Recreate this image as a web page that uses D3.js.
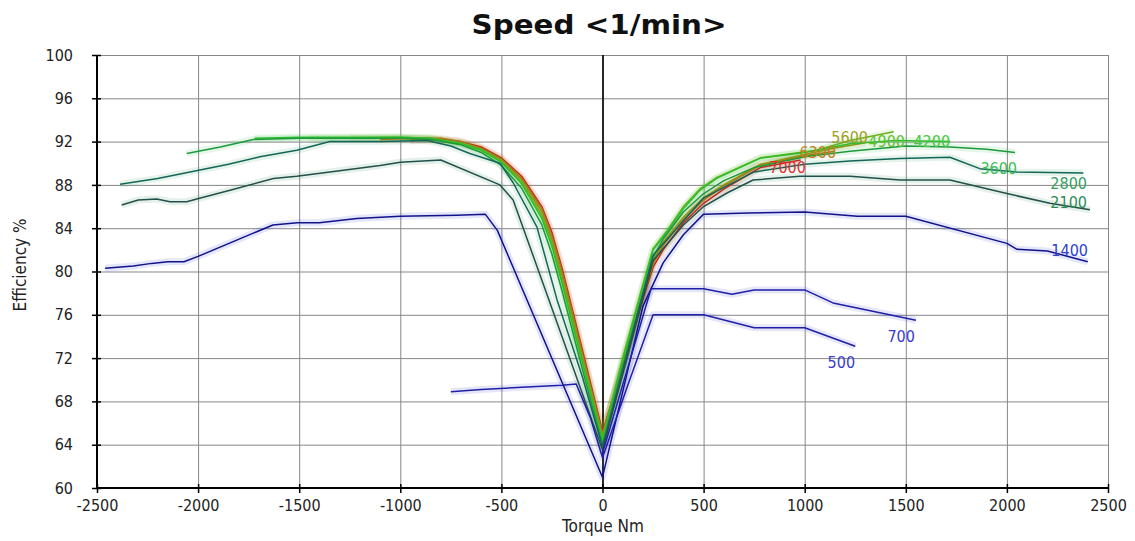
<!DOCTYPE html>
<html><head><meta charset="utf-8">
<script src="https://cdn.jsdelivr.net/npm/d3@7/dist/d3.min.js"></script>
<style>body{margin:0;background:#fff}</style>
</head><body>
<svg id="c" width="1135" height="541"></svg>
<script>
// ---------- data ----------
const chartTitle = "Speed <1/min>";
const xTitle = "Torque Nm";
const yTitle = "Efficiency %";
const xTicks = [-2500, -2000, -1500, -1000, -500, 0, 500, 1000, 1500, 2000, 2500];
const yTicks = [60, 64, 68, 72, 76, 80, 84, 88, 92, 96, 100];
const speeds = ["500", "700", "1400", "2100", "2800", "3600", "4200", "4900", "5600", "6300", "7000"];

const eff500 = [[-750,68.9],[-600,69.1],[-400,69.3],[-200,69.5],[-130,69.6],[-60,66.5],[0,62.8],[125,69.5],[250,76.0],[500,76.0],[750,74.8],[1000,74.8],[1250,73.1]];
const eff700 = [[0,63.2],[120,70.8],[240,78.4],[500,78.4],[640,77.9],[750,78.3],[1000,78.3],[1140,77.1],[1550,75.5]];
const eff1400 = [[-2460,80.3],[-2320,80.5],[-2230,80.75],[-2150,80.9],[-2070,80.9],[-2000,81.4],[-1630,84.3],[-1510,84.5],[-1400,84.5],[-1215,84.9],[-1000,85.1],[-720,85.2],[-580,85.3],[-520,83.8],[0,61.0],[200,76.8],[300,80.8],[400,83.4],[500,85.3],[720,85.4],[1000,85.5],[1260,85.1],[1500,85.1],[2000,82.6],[2050,82.05],[2200,81.9],[2400,80.9]];
const eff2100 = [[-2378,86.15],[-2296,86.6],[-2205,86.7],[-2139,86.45],[-2056,86.45],[-2007,86.7],[-1842,87.5],[-1628,88.6],[-1512,88.8],[-1348,89.2],[-1100,89.8],[-1000,90.1],[-800,90.3],[-507,88.0],[-442,86.6],[-294,78.9],[0,63.5],[250,81.0],[400,84.3],[500,86.0],[620,87.3],[745,88.45],[977,88.8],[1224,88.8],[1471,88.45],[1718,88.45],[2000,87.2],[2213,86.3],[2411,85.7]];
const eff2800 = [[-2386,88.06],[-2200,88.6],[-2040,89.2],[-1850,89.9],[-1694,90.6],[-1512,91.2],[-1348,92.0],[-1100,92.0],[-868,92.1],[-750,91.6],[-656,90.9],[-507,90.0],[-442,88.2],[-324,84.1],[-225,77.4],[-100,70.3],[0,63.8],[250,81.5],[500,86.8],[750,89.2],[1000,89.9],[1224,90.2],[1470,90.45],[1718,90.55],[1866,89.5],[2048,89.2],[2378,89.1]];
const eff3600 = [[-2056,90.9],[-1890,91.5],[-1727,92.2],[-1500,92.3],[-1000,92.3],[-850,92.2],[-700,91.7],[-600,91.0],[-500,89.8],[-400,87.7],[-300,84.3],[-250,81.6],[-200,78.2],[-100,71.0],[0,64.0],[100,71.2],[200,78.0],[250,81.3],[300,83.0],[400,85.5],[500,87.2],[600,88.4],[750,89.6],[1000,90.6],[1224,91.1],[1500,91.6],[1718,91.5],[1900,91.3],[2040,91.0]];
const eff4200 = [[-1720,92.3],[-1500,92.4],[-1000,92.4],[-850,92.3],[-700,91.8],[-600,91.2],[-500,90.1],[-400,88.1],[-300,84.9],[-250,82.3],[-200,78.9],[-100,71.6],[0,64.4],[100,71.8],[200,78.6],[250,82.0],[317,83.6],[400,85.8],[482,87.5],[565,88.6],[779,90.45],[1000,91.0],[1224,91.8],[1450,92.1],[1720,92.0]];
const eff4900 = [[-1450,92.3],[-1000,92.4],[-850,92.3],[-700,91.9],[-600,91.3],[-500,90.2],[-400,88.3],[-300,85.2],[-250,82.6],[-200,79.2],[-100,71.9],[0,64.6],[100,72.0],[200,78.8],[250,82.1],[320,83.8],[400,86.0],[480,87.6],[565,88.7],[780,90.5],[1059,91.2],[1224,92.1],[1440,92.9]];
const eff5600 = [[-1250,92.3],[-1000,92.3],[-850,92.2],[-700,91.8],[-600,91.3],[-500,90.3],[-400,88.5],[-300,85.5],[-250,83.0],[-200,79.6],[-100,72.2],[0,64.8],[100,71.6],[200,78.0],[250,81.0],[300,82.7],[400,85.0],[500,86.8],[600,88.0],[780,89.9],[1000,90.8],[1150,91.4],[1300,91.9]];
const eff6300 = [[-1100,92.2],[-900,92.3],[-800,92.3],[-700,92.0],[-600,91.4],[-500,90.4],[-400,88.6],[-300,85.8],[-250,83.3],[-200,80.0],[-100,72.5],[0,65.0],[100,71.4],[200,77.7],[250,80.7],[300,82.4],[400,84.8],[500,86.6],[600,87.9],[780,89.8],[1000,90.7],[1150,91.1]];
const eff7000 = [[-950,92.1],[-800,92.2],[-700,92.0],[-600,91.5],[-500,90.5],[-400,88.8],[-300,86.0],[-250,83.6],[-200,80.3],[-100,72.8],[0,65.2],[100,71.2],[200,77.4],[250,80.4],[300,82.0],[400,84.5],[500,86.3],[600,87.6],[780,89.6],[980,90.3]];
const curveData = [eff500, eff700, eff1400, eff2100, eff2800, eff3600, eff4200, eff4900, eff5600, eff6300, eff7000];
// label anchor (torque, efficiency) for each speed label
const labelAnchors = [[1249,71.1],[1545,73.5],[2401,81.4],[2396,85.87],[2396,87.62],[2050,89.0],[1719,91.5],[1496,91.5],[1313,91.87],[1155,90.48],[1006,89.1]];

// ---------- styles ----------
const lineColors = ["#1f1fa8","#1f1fa8","#12128a","#23504a","#14665a","#1c9a3c","#2cbf2c","#6ab01e","#8e9414","#b07418","#c02a22"];
const labelColors = ["#3a3ad0","#3a3ad0","#2e3ed0","#2f8a55","#33a060","#3cbc55","#45c840","#62c030","#9aa020","#c08020","#e03030"];
const FONT = "'DejaVu Sans Condensed','DejaVu Sans',sans-serif";

const svg = d3.select("#c");
const x = d3.scaleLinear().domain([-2500, 2500]).range([97, 1108]);
const y = d3.scaleLinear().domain([60, 100]).range([488, 55]);

// grid
const g = svg.append("g");
g.selectAll(".vg").data(xTicks).join("line")
  .attr("x1", d => x(d) + 0.5).attr("x2", d => x(d) + 0.5)
  .attr("y1", y(100)).attr("y2", y(60))
  .attr("stroke", "#878787").attr("stroke-width", 1);
g.selectAll(".hg").data(yTicks).join("line")
  .attr("x1", x(-2500)).attr("x2", x(2500))
  .attr("y1", d => y(d) + 0.5).attr("y2", d => y(d) + 0.5)
  .attr("stroke", "#878787").attr("stroke-width", 1);

// zero line
svg.append("line").attr("x1", x(0)+0.5).attr("x2", x(0)+0.5).attr("y1", y(100)).attr("y2", y(60))
  .attr("stroke", "#000").attr("stroke-width", 1.6);

// curves (highest speed drawn first, so lower speeds sit on top)
const line = d3.line().x(d => x(d[0])).y(d => y(d[1]));
const cg = svg.append("g");
const order = d3.range(curveData.length).reverse();
order.forEach(i => {
  cg.append("path").attr("d", line(curveData[i])).attr("fill", "none")
    .attr("stroke", labelColors[i]).attr("stroke-opacity", 0.13).attr("stroke-width", 7)
    .attr("stroke-linejoin", "round");
});
order.forEach(i => {
  cg.append("path").attr("d", line(curveData[i])).attr("fill", "none")
    .attr("stroke", lineColors[i]).attr("stroke-width", 1.5)
    .attr("stroke-linejoin", "round");
});

// curve labels
svg.append("g").selectAll("text").data(speeds).join("text")
  .attr("x", (d, i) => x(labelAnchors[i][0]))
  .attr("y", (d, i) => y(labelAnchors[i][1]))
  .attr("text-anchor", "end")
  .attr("font-family", FONT).attr("font-size", 16)
  .attr("fill", (d, i) => labelColors[i])
  .text(d => d);

// axes
const xAxis = svg.append("g").attr("transform", `translate(0,${y(60)})`)
  .call(d3.axisBottom(x).tickValues(xTicks).tickFormat(d3.format("d")).tickSize(5).tickPadding(7));
const yAxis = svg.append("g").attr("transform", `translate(${x(-2500)},0)`)
  .call(d3.axisLeft(y).tickValues(yTicks).tickSize(5).tickPadding(19));
[xAxis, yAxis].forEach(a => {
  a.select(".domain").attr("stroke", "#000").attr("stroke-width", 2);
  a.selectAll(".tick line").attr("stroke", "#000").attr("stroke-width", 1.5);
  a.selectAll(".tick text").attr("font-family", FONT).attr("font-size", 16).attr("fill", "#222");
});
xAxis.select(".domain").attr("d", `M${x(-2500)},0H${x(2500)}`);
yAxis.select(".domain").attr("d", `M0,${y(100)}V${y(60)}`);
xAxis.selectAll(".tick line").attr("y1", -4);
yAxis.selectAll(".tick line").attr("x1", 4);
xAxis.selectAll(".tick text").text(d => d < 0 ? "-" + Math.abs(d) : d);

// titles
svg.append("text").attr("x", 599).attr("y", 34).attr("text-anchor", "middle")
  .attr("font-family", "'DejaVu Sans',sans-serif").attr("font-weight", "bold").attr("font-size", 27)
  .attr("textLength", 255).attr("lengthAdjust", "spacingAndGlyphs")
  .attr("fill", "#111").text(chartTitle);
svg.append("text").attr("x", 603).attr("y", 532).attr("text-anchor", "middle")
  .attr("font-family", FONT).attr("font-size", 17).attr("fill", "#222").text(xTitle);
svg.append("text").attr("transform", "translate(26,265) rotate(-90)").attr("text-anchor", "middle")
  .attr("font-family", FONT).attr("font-size", 17).attr("fill", "#222").text(yTitle);
</script>
</body></html>
